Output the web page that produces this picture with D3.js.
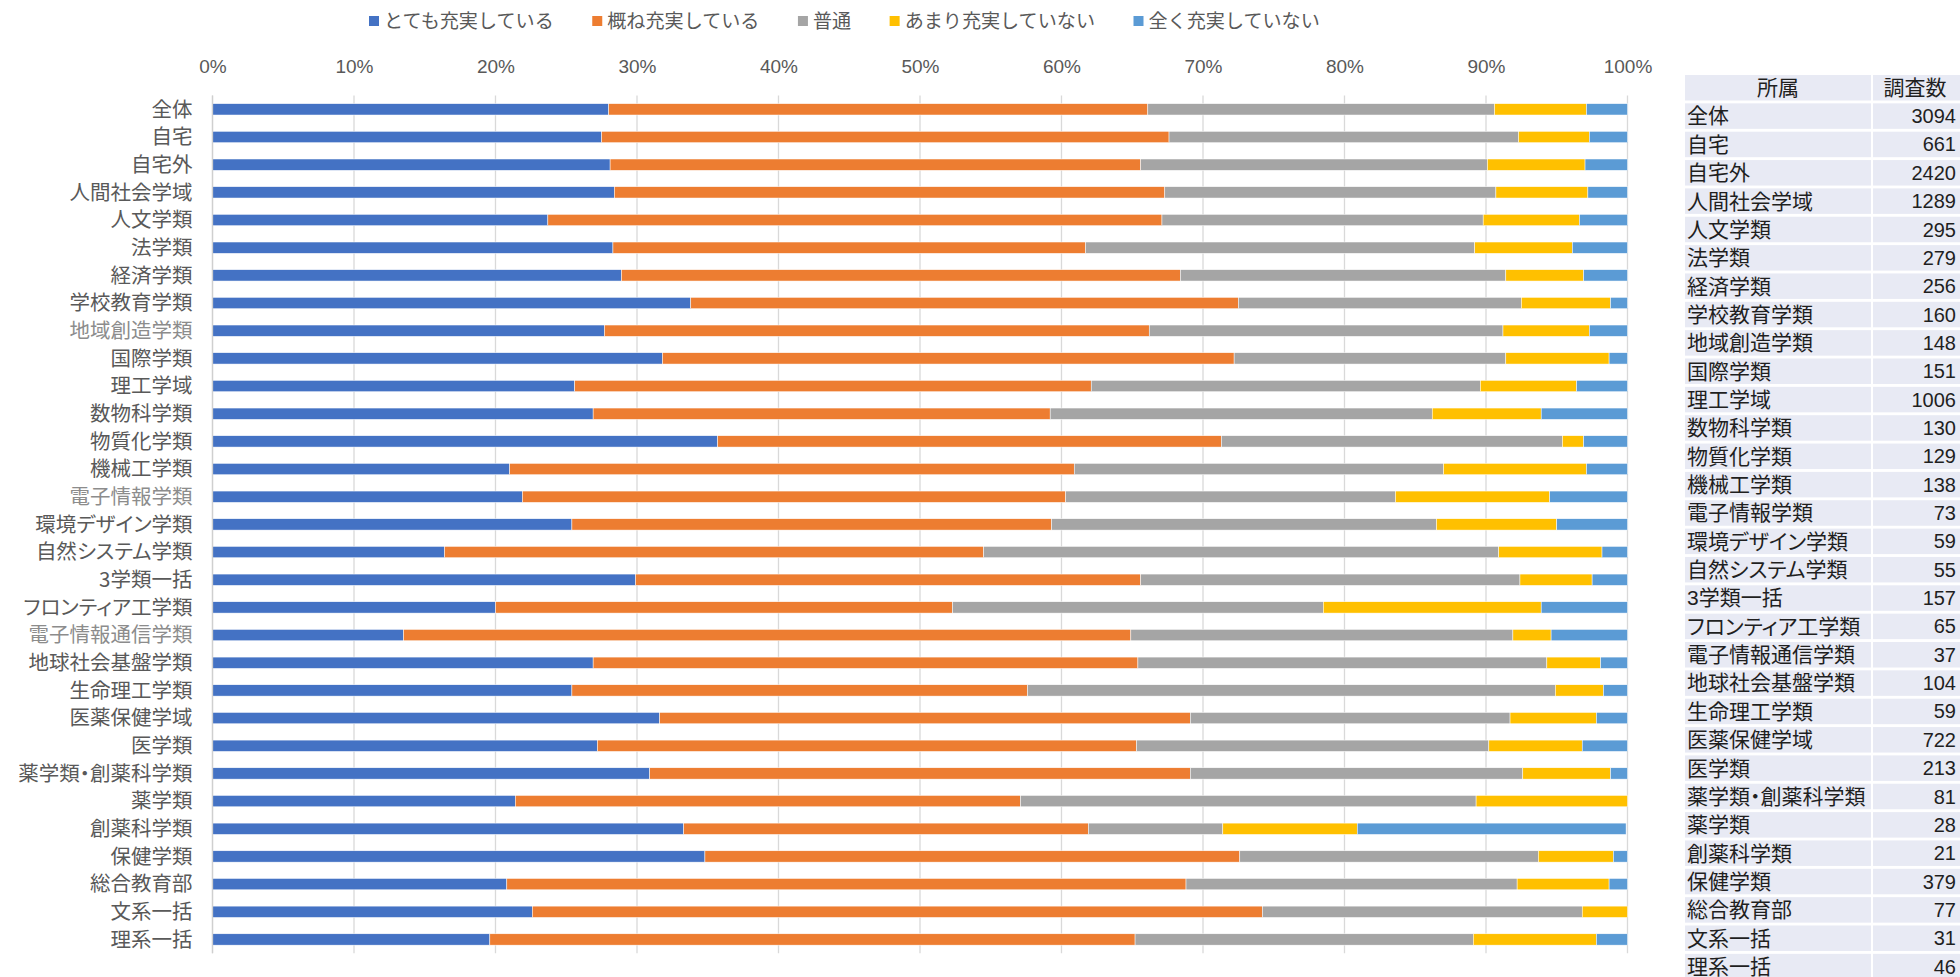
<!DOCTYPE html>
<html>
<head>
<meta charset="utf-8">
<script src="https://cdn.jsdelivr.net/npm/d3@7"></script>
<style>
  html, body { margin: 0; padding: 0; background: #ffffff; }
  svg { display: block; }
</style>
</head>
<body>
<svg id="chart" width="1960" height="977"></svg>
<script>
// 所属ごとの満足度（%）
const categories = [
  "全体", "自宅", "自宅外", "人間社会学域", "人文学類", "法学類", "経済学類", "学校教育学類",
  "地域創造学類", "国際学類", "理工学域", "数物科学類", "物質化学類", "機械工学類", "電子情報学類",
  "環境デザイン学類", "自然システム学類", "3学類一括", "フロンティア工学類", "電子情報通信学類",
  "地球社会基盤学類", "生命理工学類", "医薬保健学域", "医学類", "薬学類・創薬科学類", "薬学類",
  "創薬科学類", "保健学類", "総合教育部", "文系一括", "理系一括"
];

const seriesNames = ["とても充実している", "概ね充実している", "普通", "あまり充実していない", "全く充実していない"];

const veryGood   = [28.0, 27.5, 28.1, 28.4, 23.7, 28.3, 28.9, 33.8, 27.7, 31.8, 25.6, 26.9, 35.7, 21.0, 21.9, 25.4, 16.4, 29.9, 20.0, 13.5, 26.9, 25.4, 31.6, 27.2, 30.9, 21.4, 33.3, 34.8, 20.8, 22.6, 19.6];
const fairlyGood = [38.1, 40.1, 37.5, 38.9, 43.4, 33.4, 39.5, 38.7, 38.5, 40.4, 36.5, 32.3, 35.6, 39.9, 38.4, 33.9, 38.1, 35.7, 32.3, 51.4, 38.5, 32.2, 37.5, 38.1, 38.2, 35.7, 28.6, 37.8, 48.0, 51.6, 45.6];
const neutral    = [24.5, 24.7, 24.5, 23.4, 22.7, 27.5, 23.0, 20.0, 25.0, 19.2, 27.5, 27.0, 24.1, 26.1, 23.3, 27.2, 36.4, 26.8, 26.2, 27.0, 28.9, 37.3, 22.6, 24.9, 23.5, 32.2,  9.5, 21.1, 23.4, 22.6, 23.9];
const notVery    = [ 6.5,  5.0,  6.9,  6.5,  6.8,  6.9,  5.5,  6.3,  6.1,  7.3,  6.8,  7.7,  1.5, 10.1, 10.9,  8.5,  7.3,  5.1, 15.4,  2.7,  3.8,  3.4,  6.1,  6.6,  6.2, 10.7,  9.5,  5.3,  6.5,  3.2,  8.7];
const notAtAll   = [ 2.9,  2.7,  3.0,  2.8,  3.4,  3.9,  3.1,  1.2,  2.7,  1.3,  3.6,  6.1,  3.1,  2.9,  5.5,  5.0,  1.8,  2.5,  6.1,  5.4,  1.9,  1.7,  2.2,  3.2,  1.2,  0.0, 19.0,  1.0,  1.3,  0.0,  2.2];

// 調査数
const respondents = [3094, 661, 2420, 1289, 295, 279, 256, 160, 148, 151, 1006, 130, 129, 138, 73, 59, 55, 157, 65, 37, 104, 59, 722, 213, 81, 28, 21, 379, 77, 31, 46];

const tickValues = [0, 10, 20, 30, 40, 50, 60, 70, 80, 90, 100];
const tableHeader = ["所属", "調査数"];

const seriesColors = ["#4472C4", "#ED7D31", "#A5A5A5", "#FFC000", "#5B9BD5"];
const mutedLabels = new Set(["地域創造学類", "電子情報学類", "電子情報通信学類"]);

// ---- layout ----
const plotLeft = 212.5, plotRight = 1627.5;
const plotTop = 95.5, plotBottom = 953.3;
const cjkFont = '"Noto Sans CJK JP", "Noto Sans", sans-serif';
const latinFont = '"Liberation Sans", Arial, "Noto Sans CJK JP", sans-serif';
const textGray = "#595959";

const svg = d3.select("#chart");

const rows = categories.map((c, i) => ({
  category: c,
  [seriesNames[0]]: veryGood[i],
  [seriesNames[1]]: fairlyGood[i],
  [seriesNames[2]]: neutral[i],
  [seriesNames[3]]: notVery[i],
  [seriesNames[4]]: notAtAll[i]
}));

const x = d3.scaleLinear().domain([0, 100]).range([plotLeft, plotRight]);
const y = d3.scaleBand()
  .domain(categories)
  .range([plotTop, plotBottom])
  .paddingInner(0.59)
  .paddingOuter(0.295);
const color = d3.scaleOrdinal().domain(seriesNames).range(seriesColors);

// vertical gridlines
svg.append("g")
  .selectAll("line")
  .data(tickValues)
  .join("line")
  .attr("x1", d => x(d)).attr("x2", d => x(d))
  .attr("y1", plotTop).attr("y2", plotBottom)
  .attr("stroke", "#d9d9d9")
  .attr("stroke-width", 1.3);

// stacked bars
const stacked = d3.stack().keys(seriesNames)(rows);
svg.append("g")
  .selectAll("g")
  .data(stacked)
  .join("g")
  .attr("fill", d => color(d.key))
  .selectAll("rect")
  .data(d => d)
  .join("rect")
  .attr("x", d => x(d[0]))
  .attr("y", d => y(d.data.category))
  .attr("width", d => Math.max(0, x(d[1]) - x(d[0])))
  .attr("height", y.bandwidth())
  .attr("stroke", "#ffffff")
  .attr("stroke-width", 0.5);

// category axis line
svg.append("line")
  .attr("x1", plotLeft).attr("x2", plotLeft)
  .attr("y1", plotTop).attr("y2", plotBottom)
  .attr("stroke", "#cfcfcf")
  .attr("stroke-width", 1.3);

// percentage axis along the top
const xAxis = svg.append("g")
  .attr("transform", "translate(0,66)")
  .call(d3.axisTop(x).tickValues(tickValues).tickFormat(d => d + "%").tickSize(0).tickPadding(0));
xAxis.select(".domain").remove();
xAxis.selectAll("text")
  .attr("y", 0)
  .attr("dy", "0.35em")
  .attr("fill", textGray)
  .style("font-family", latinFont)
  .style("font-size", "19px");

// category labels
const yAxis = svg.append("g")
  .attr("transform", `translate(${plotLeft},0)`)
  .call(d3.axisLeft(y).tickSize(0).tickPadding(20));
yAxis.select(".domain").remove();
yAxis.selectAll("text")
  .attr("dy", "0.35em")
  .attr("fill", d => mutedLabels.has(d) ? "#8c8c8c" : textGray)
  .style("font-family", cjkFont)
  .style("font-size", "20.5px")
  .style("font-feature-settings", '"palt"');

// legend
const legend = svg.append("g").attr("transform", "translate(0,21)");
let lx = 369;
seriesNames.forEach((name, i) => {
  const item = legend.append("g").attr("transform", `translate(${lx},0)`);
  item.append("rect")
    .attr("x", 0).attr("y", -5)
    .attr("width", 10).attr("height", 10)
    .attr("fill", seriesColors[i]);
  const t = item.append("text")
    .attr("x", 15).attr("y", 0).attr("dy", "0.35em")
    .attr("fill", textGray)
    .style("font-family", cjkFont)
    .style("font-size", "19.1px")
    .text(name);
  lx += 15 + t.node().getComputedTextLength() + 38.5;
});

// respondent table
const table = svg.append("g");
const rowPitch = 28.35, cellH = 25.5, tableTop = 75;
const col1X = 1685, col1W = 186, col2X = 1873, col2W = 87;
const cellFill = "#E8EAF4";
const tableRows = [tableHeader].concat(categories.map((c, i) => [c, respondents[i]]));

tableRows.forEach((r, i) => {
  const ty = tableTop + i * rowPitch;
  const cy = ty + cellH / 2;
  table.append("rect").attr("x", col1X).attr("y", ty).attr("width", col1W).attr("height", cellH).attr("fill", cellFill);
  table.append("rect").attr("x", col2X).attr("y", ty).attr("width", col2W).attr("height", cellH).attr("fill", cellFill);
  const isHeader = i === 0;
  table.append("text")
    .attr("x", isHeader ? col1X + col1W / 2 : col1X + 2)
    .attr("y", cy).attr("dy", "0.35em")
    .attr("text-anchor", isHeader ? "middle" : "start")
    .attr("fill", "#1f1f1f")
    .style("font-family", latinFont)
    .style("font-size", "21px")
    .style("font-feature-settings", '"palt"')
    .text(r[0]);
  table.append("text")
    .attr("x", isHeader ? col2X + 42 : col2X + col2W - 4)
    .attr("y", cy).attr("dy", "0.35em")
    .attr("text-anchor", isHeader ? "middle" : "end")
    .attr("fill", "#1f1f1f")
    .style("font-family", latinFont)
    .style("font-size", isHeader ? "21px" : "20px")
    .text(r[1]);
});
</script>
</body>
</html>
